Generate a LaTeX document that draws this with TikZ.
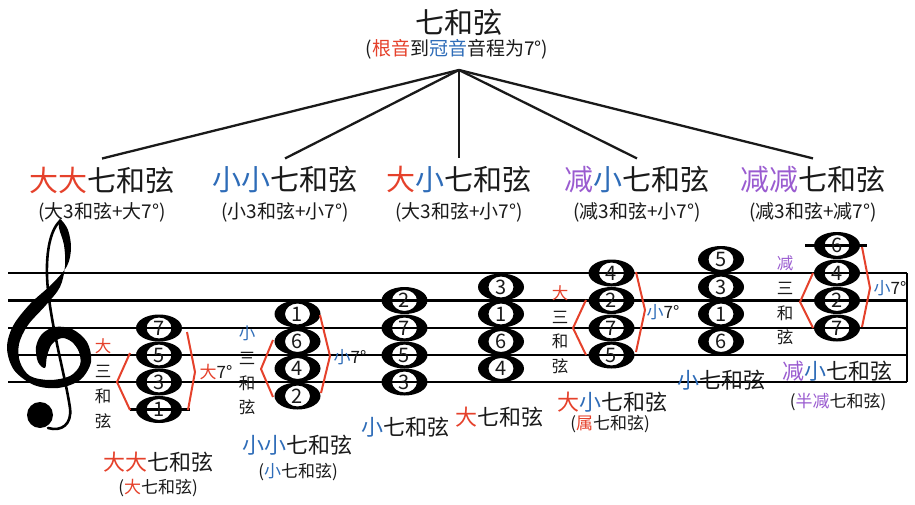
\documentclass[tikz,border=0pt]{standalone}
\usepackage{fontspec}
\setmainfont{Noto Sans CJK SC}
\definecolor{cred}{HTML}{E5412B}
\definecolor{cblue}{HTML}{2E6CB8}
\definecolor{cpurple}{HTML}{9A5CD0}
\definecolor{ink}{HTML}{1A1A1A}
\newcommand\cR[1]{\textcolor{cred}{#1}}
\newcommand\cB[1]{\textcolor{cblue}{#1}}
\newcommand\cP[1]{\textcolor{cpurple}{#1}}
\tikzset{
  lbl/.style={inner sep=0pt, text=ink},
  big/.style={lbl, font=\fontsize{29}{29}\selectfont},
  mid/.style={lbl, font=\fontsize{22}{22}\selectfont},
  sml/.style={lbl, font=\fontsize{19}{19}\selectfont},
  tiny/.style={lbl, font=\fontsize{17}{17}\selectfont},
  vch/.style={lbl, font=\fontsize{16.5}{16.5}\selectfont},
  fan/.style={line width=2.3pt, draw=ink},
  staffline/.style={line width=2.6pt, draw=black},
  ledger/.style={line width=2.4pt, draw=black},
  bracket/.style={line width=2pt, draw=cred, line join=miter},
  digit/.style={inner sep=0pt, font=\fontsize{20}{20}\selectfont, text=ink},
}
\newcommand\mynote[4]{%
  \fill[black, even odd rule] (#2,#3) ellipse[x radius=23pt, y radius=13.5pt]
        (#2,#3) ellipse[x radius=12.5pt, y radius=10.5pt];
  \node[digit] (#1) at (#2,#3) {#4};
}
\begin{document}
\begin{tikzpicture}[x=1pt,y=-1pt]
\useasboundingbox (0,0) rectangle (915,505);
% ---- top tree
\node[big] (title) at (459,22) {七和弦};
\node[sml] (sub) at (457,49) {(\cR{根音}到\cB{冠音}音程为7°)};
\coordinate (apex) at (459,70);
\node[big] (h1) at (102,180) {\cR{大大}七和弦};
\node[big] (h2) at (285,180) {\cB{小小}七和弦};
\node[big] (h3) at (459,180) {\cR{大}\cB{小}七和弦};
\node[big] (h4) at (637,180) {\cP{减}\cB{小}七和弦};
\node[big] (h5) at (813,180) {\cP{减减}七和弦};
\node[sml] (s1) at (102,212) {(大3和弦+大7°)};
\node[sml] (s2) at (285,212) {(小3和弦+小7°)};
\node[sml] (s3) at (459,212) {(大3和弦+小7°)};
\node[sml] (s4) at (637,212) {(减3和弦+小7°)};
\node[sml] (s5) at (813,212) {(减3和弦+减7°)};
\foreach \h in {h1,h2,h3,h4,h5} \draw[fan] (apex) -- ([yshift=8pt]\h.north);
% ---- staff
\foreach \yy in {273,300.5,328,355,382} \draw[staffline] (8,\yy) -- (907,\yy);
\draw[staffline] (907,273) -- (907,382);
% ---- treble clef
\fill[black] plot[smooth cycle, tension=0.55] coordinates {
 (60,219) (68,230) (71,248) (67,266) (52,284) (30,304) (13,326) (7,348)
 (14,370) (34,385) (58,388) (80,380) (91,362) (87,342) (72,329) (55,327)
 (42,334) (36,347) (38,362) (45,368) (47,356) (52,344) (62,338) (72,342)
 (79,352) (80,365) (70,376) (50,380) (30,376) (20,362) (19,344) (28,325)
 (46,305) (60,287) (65,266) (64,245) (59,228)};
\draw[black, line width=2.6pt, line cap=round] (60,221) .. controls (48,232) and (45,262) .. (48,290)
  .. controls (52,330) and (66,380) .. (70,408) .. controls (72,424) and (62,432) .. (48,428);
\fill[black] (40,415) circle[radius=13pt];
% ---- ledger lines
\draw[ledger] (130,409.5) -- (190,409.5);
\draw[ledger] (805,245.5) -- (867,245.5);
% ---- chord 1
\mynote{a1}{159}{409.5}{1}
\mynote{a3}{159}{382}{3}
\mynote{a5}{159}{355}{5}
\mynote{a7}{159}{328}{7}
% ---- chord 2
\mynote{b2}{297.5}{396}{2}
\mynote{b4}{297.5}{368.5}{4}
\mynote{b6}{297.5}{341.5}{6}
\mynote{b1}{297.5}{314}{1}
% ---- chord 3
\mynote{c3}{404.5}{382}{3}
\mynote{c5}{404.5}{355}{5}
\mynote{c7}{404.5}{328}{7}
\mynote{c2}{404.5}{300.5}{2}
% ---- chord 4
\mynote{d4}{501}{368.5}{4}
\mynote{d6}{501}{341.5}{6}
\mynote{d1}{501}{314}{1}
\mynote{d3}{501}{287}{3}
% ---- chord 5
\mynote{e5}{611.5}{355}{5}
\mynote{e7}{611.5}{328}{7}
\mynote{e2}{611.5}{300.5}{2}
\mynote{e4}{611.5}{273}{4}
% ---- chord 6
\mynote{f6}{721}{341.5}{6}
\mynote{f1}{721}{314}{1}
\mynote{f3}{721}{287}{3}
\mynote{f5}{721}{259.5}{5}
% ---- chord 7
\mynote{g7}{837}{328}{7}
\mynote{g2}{837}{300.5}{2}
\mynote{g4}{837}{273}{4}
\mynote{g6}{837}{245.5}{6}
% ---- brackets
\draw[bracket] (130,353) -- (117,382) -- (130,410);
\draw[bracket] (187,332) -- (195,372) -- (188,410);
\draw[bracket] (273,340) -- (261,369) -- (273,397);
\draw[bracket] (320,315) -- (330,356) -- (321,393);
\draw[bracket] (586,300) -- (573,328) -- (586,355);
\draw[bracket] (636,272) -- (645,310) -- (636,352);
\draw[bracket] (813,273) -- (800,302) -- (813,328);
\draw[bracket] (862,247) -- (870,288) -- (862,327);
% ---- vertical triad labels
\node[vch] (v1a) at (103,346) {\cR{大}};
\node[vch] (v1b) at (103,371) {三};
\node[vch] (v1c) at (103,396) {和};
\node[vch] (v1d) at (103,421) {弦};
\node[vch] (v2a) at (247,333) {\cB{小}};
\node[vch] (v2b) at (247,358) {三};
\node[vch] (v2c) at (247,383) {和};
\node[vch] (v2d) at (247,407) {弦};
\node[vch] (v5a) at (560,293) {\cR{大}};
\node[vch] (v5b) at (560,317) {三};
\node[vch] (v5c) at (560,341) {和};
\node[vch] (v5d) at (560,366) {弦};
\node[vch] (v7a) at (785,263) {\cP{减}};
\node[vch] (v7b) at (785,288) {三};
\node[vch] (v7c) at (785,313) {和};
\node[vch] (v7d) at (785,337) {弦};
% ---- seventh labels
\node[tiny] (r1) at (216,372) {\cR{大}7°};
\node[tiny] (r2) at (350,357) {\cB{小}7°};
\node[tiny] (r5) at (663,312) {\cB{小}7°};
\node[tiny] (r7) at (890,288) {\cB{小}7°};
% ---- chord names
\node[mid] (k1) at (158,462) {\cR{大大}七和弦};
\node[tiny] (k1s) at (158,488) {(\cR{大}七和弦)};
\node[mid] (k2) at (297,445) {\cB{小小}七和弦};
\node[tiny] (k2s) at (298,472) {(\cB{小}七和弦)};
\node[mid] (k3) at (405,427) {\cB{小}七和弦};
\node[mid] (k4) at (499,417) {\cR{大}七和弦};
\node[mid] (k5) at (612,402) {\cR{大}\cB{小}七和弦};
\node[tiny] (k5s) at (610,424) {(\cR{属}七和弦)};
\node[mid] (k6) at (721,380) {\cB{小}七和弦};
\node[mid] (k7) at (837,371) {\cP{减}\cB{小}七和弦};
\node[tiny] (k7s) at (838,402) {(\cP{半减}七和弦)};
\end{tikzpicture}
\end{document}
